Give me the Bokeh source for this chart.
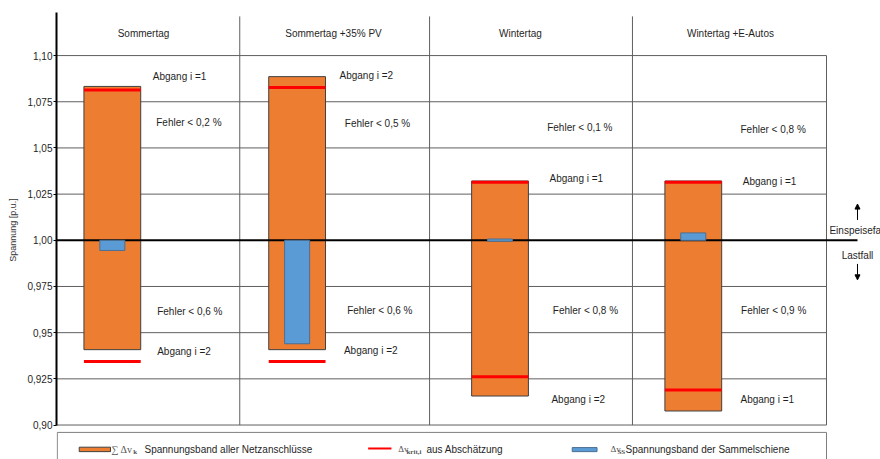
from bokeh.plotting import figure
from bokeh.models import Range1d, FixedTicker, Arrow, NormalHead
from bokeh.core.properties import value
from bokeh.embed import file_html
from bokeh.resources import INLINE

# ---------------- data ----------------
scenarios = ["Sommertag", "Sommertag +35% PV", "Wintertag", "Wintertag +E-Autos"]
band_top = [1.0833, 1.0886, 1.0321, 1.0321]       # sum dv_k upper end
band_bottom = [0.9408, 0.9408, 0.9157, 0.9076]    # sum dv_k lower end
krit_upper = [1.0813, 1.0827, 1.0314, 1.0314]     # dv_krit,i estimate (upper)
krit_lower = [0.9344, 0.9344, 0.9261, 0.9189]     # dv_krit,i estimate (lower)
ss_top = [1.0000, 1.0000, 1.0007, 1.0040]         # dv_SS busbar band
ss_bottom = [0.9945, 0.9440, 0.9995, 1.0000]

y_ticks = [0.90, 0.925, 0.95, 0.975, 1.00, 1.025, 1.05, 1.075, 1.10]
y_tick_labels = ["0,90", "0,925", "0,95", "0,975", "1,00", "1,025", "1,05", "1,075", "1,10"]

annot_text = ["Abgang i =1", "Fehler < 0,2 %", "Fehler < 0,6 %", "Abgang i =2",
              "Abgang i =2", "Fehler < 0,5 %", "Fehler < 0,6 %", "Abgang i =2",
              "Fehler < 0,1 %", "Abgang i =1", "Fehler < 0,8 %", "Abgang i =2",
              "Fehler < 0,8 %", "Abgang i =1", "Fehler < 0,9 %", "Abgang i =1"]

# ---------------- layout ----------------
panel_edges = [0.0, 0.952, 1.938, 2.992, 4.0]
title_x = [0.452, 1.439, 2.410, 3.501]
bar_center = [0.290, 1.250, 2.304, 3.308]
bar_w = 0.295
ss_w = 0.13
annot_x = [0.500, 0.518, 0.523, 0.523,
           1.470, 1.498, 1.510, 1.493,
           2.549, 2.561, 2.578, 2.571,
           3.553, 3.565, 3.556, 3.553]
annot_y = [1.0887, 1.0638, 0.9615, 0.9400,
           1.0892, 1.0634, 0.9618, 0.9403,
           1.0612, 1.0333, 0.9620, 0.9138,
           1.0601, 1.0318, 0.9620, 0.9138]

FONT = value("Liberation Sans")
TXT = "#1f1f1f"
GRID = "#5f5f5f"
ORANGE = "#ED7D31"
BLUE = "#5B9BD5"
RED = "#FF0000"

p = figure(width=880, height=459, x_range=Range1d(0, 4.2805), y_range=Range1d(0.88134, 1.12981),
           output_backend="svg", toolbar_location=None, x_axis_type=None)
p.min_border_left = 56
p.min_border_right = 0
p.min_border_top = 0
p.min_border_bottom = 0
p.outline_line_color = None
p.ygrid.visible = False
p.background_fill_color = "white"

ax = p.yaxis[0]
ax.bounds = (0.90, 1.1233)
ax.ticker = FixedTicker(ticks=y_ticks)
ax.major_label_overrides = dict(zip(y_ticks, y_tick_labels))
ax.minor_tick_line_color = None
ax.axis_line_width = 2
ax.axis_line_color = "black"
ax.major_tick_out = 3
ax.major_tick_in = 0
ax.major_tick_line_color = "black"
ax.major_label_standoff = 1
ax.major_label_text_font = "Liberation Sans"
ax.major_label_text_font_size = "10px"
ax.major_label_text_color = TXT
ax.axis_label = "Spannung [p.u.]"
ax.axis_label_text_font = "Liberation Sans"
ax.axis_label_text_font_size = "9px"
ax.axis_label_text_font_style = "normal"
ax.axis_label_text_color = "#333333"
ax.axis_label_standoff = 6

# horizontal grid lines (within panels)
grid_y = [t for t in y_ticks if t not in (0.90, 1.00)]
p.segment(x0=[panel_edges[0]] * len(grid_y), x1=[panel_edges[-1]] * len(grid_y),
          y0=grid_y, y1=grid_y, line_color=GRID, line_width=1)
# bottom line
p.segment(x0=[panel_edges[0]], x1=[panel_edges[-1]], y0=[y_ticks[0]], y1=[y_ticks[0]],
          line_color=GRID, line_width=1)
# vertical dividers
inner = panel_edges[1:-1]
p.segment(x0=inner, x1=inner, y0=[y_ticks[0]] * len(inner), y1=[1.1212] * len(inner),
          line_color=GRID, line_width=1)
# right border
p.segment(x0=[panel_edges[-1]], x1=[panel_edges[-1]], y0=[y_ticks[0]], y1=[y_ticks[-1]],
          line_color=GRID, line_width=1)

# scenario titles
p.text(x=title_x, y=[1.1120] * 4, text=scenarios, text_font=FONT, text_font_size="10px",
       text_color=TXT, text_align="center", text_baseline="middle")

# bands of all connections
p.vbar(x=bar_center, width=bar_w, top=band_top, bottom=band_bottom,
       fill_color=ORANGE, line_color="#404040", line_width=1)

# 1.00 reference line
p.segment(x0=[panel_edges[0]], x1=[4.161], y0=[1.0], y1=[1.0], line_color="black", line_width=2)

# busbar band
p.vbar(x=bar_center, width=ss_w, top=ss_top, bottom=ss_bottom,
       fill_color=BLUE, line_color="#4a6f94", line_width=1)

# critical estimates
x0s = [c - bar_w / 2 for c in bar_center]
x1s = [c + bar_w / 2 for c in bar_center]
p.segment(x0=x0s, x1=x1s, y0=krit_upper, y1=krit_upper, line_color=RED, line_width=3)
p.segment(x0=x0s, x1=x1s, y0=krit_lower, y1=krit_lower, line_color=RED, line_width=3)

# annotations
p.text(x=annot_x, y=annot_y, text=annot_text, text_font=FONT, text_font_size="10px",
       text_color=TXT, text_align="left", text_baseline="middle")

# Einspeisefall / Lastfall
p.text(x=[4.161, 4.161], y=[1.0053, 0.9918], text=["Einspeisefall", "Lastfall"], text_font=FONT,
       text_font_size="10px", text_color=TXT, text_align="center", text_baseline="middle")
p.add_layout(Arrow(end=NormalHead(size=5, fill_color="black", line_color="black"),
                   x_start=4.161, y_start=1.0110, x_end=4.161, y_end=1.0196,
                   line_color="black", line_width=1))
p.add_layout(Arrow(end=NormalHead(size=5, fill_color="black", line_color="black"),
                   x_start=4.161, y_start=0.9872, x_end=4.161, y_end=0.9786,
                   line_color="black", line_width=1))

# legend box (drawn manually)
p.quad(left=[0.004], right=[panel_edges[-1]], top=[0.8960], bottom=[0.87],
       fill_color=None, line_color="#7f7f7f", line_width=1)
ly = 0.88680
p.quad(left=[0.118], right=[0.2805], top=[ly + 0.0012], bottom=[ly - 0.0012],
       fill_color=ORANGE, line_color="#404040", line_width=1)
p.segment(x0=[1.619], x1=[1.740], y0=[ly + 0.0005], y1=[ly + 0.0005], line_color=RED, line_width=2)
p.quad(left=[2.679], right=[2.808], top=[ly + 0.0010], bottom=[ly - 0.0012],
       fill_color=BLUE, line_color="#4a6f94", line_width=1)

SER = value("Liberation Serif")
p.text(x=[0.2857, 1.775, 2.878], y=[ly] * 3, text=["\u2211 \u0394v", "\u0394v", "\u0394v"],
       text_font=SER, text_font_size=["10px", "9px", "9px"], text_color="#555555",
       text_align="left", text_baseline="middle")
p.text(x=[0.399, 1.818, 2.914], y=[ly - 0.0013] * 3, text=["k", "krit,i", "SS"],
       text_font=SER, text_font_size="7px", text_font_style="bold", text_color="#555555",
       text_align="left", text_baseline="middle")
p.text(x=[0.4571, 1.922, 2.956], y=[ly] * 3,
       text=["Spannungsband aller Netzanschl\u00fcsse", "aus Absch\u00e4tzung",
             "Spannungsband der Sammelschiene"],
       text_font=FONT, text_font_size="10px", text_color=TXT,
       text_align="left", text_baseline="middle")

open("out.html", "w").write(file_html(p, INLINE))
